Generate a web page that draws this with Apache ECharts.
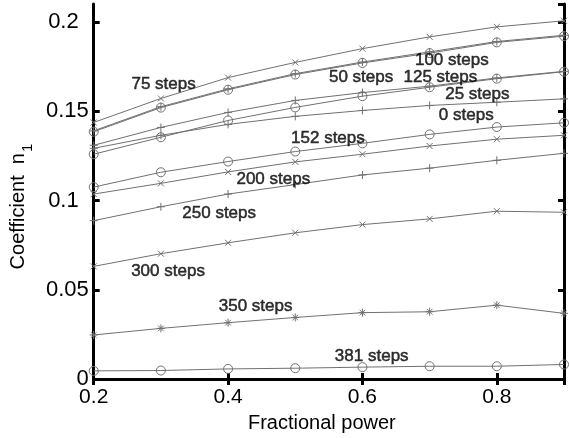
<!DOCTYPE html>
<html>
<head>
<meta charset="utf-8">
<script src="https://cdn.jsdelivr.net/npm/echarts@6/dist/echarts.min.js"></script>
<style>
html,body{margin:0;padding:0;background:#fff;}
#chart{width:569px;height:438px;}
</style>
</head>
<body>
<div id="chart"></div>
<script>
// ---- data ----
const fractionalPower = [0.2, 0.3, 0.4, 0.5, 0.6, 0.7, 0.8, 0.9];

const steps75  = [0.1437, 0.1571, 0.1688, 0.1773, 0.1850, 0.1916, 0.1972, 0.2006];
const steps100 = [0.1390, 0.1525, 0.1625, 0.1710, 0.1775, 0.1832, 0.1890, 0.1925];
const steps50  = [0.1385, 0.1520, 0.1620, 0.1705, 0.1770, 0.1825, 0.1885, 0.1920];
const steps125 = [0.1259, 0.1354, 0.1448, 0.1521, 0.1584, 0.1634, 0.1682, 0.1721];
const steps25  = [0.1309, 0.1409, 0.1493, 0.1560, 0.1604, 0.1640, 0.1686, 0.1723];
const steps0   = [0.1292, 0.1365, 0.1426, 0.1471, 0.1504, 0.1532, 0.1550, 0.1569];
const steps152 = [0.1075, 0.1158, 0.1218, 0.1274, 0.1320, 0.1370, 0.1411, 0.1435];
const steps200 = [0.1036, 0.1096, 0.1160, 0.1216, 0.1259, 0.1305, 0.1343, 0.1365];
const steps250 = [0.0887, 0.0965, 0.1036, 0.1089, 0.1143, 0.1181, 0.1225, 0.1264];
const steps300 = [0.0631, 0.0702, 0.0763, 0.0819, 0.0865, 0.0897, 0.0940, 0.0934];
const steps350 = [0.0247, 0.0284, 0.0316, 0.0345, 0.0372, 0.0377, 0.0414, 0.0368];
const steps381 = [0.0046, 0.0048, 0.0057, 0.0061, 0.0067, 0.0072, 0.0072, 0.0082];

// annotation texts and their anchor points (data coordinates)
const labelTexts = ['75 steps','100 steps','50 steps','125 steps','25 steps','0 steps',
                    '152 steps','200 steps','250 steps','300 steps','350 steps','381 steps'];
const labelX = [0.304, 0.733, 0.598, 0.716, 0.771, 0.7545, 0.5486, 0.4673, 0.3867, 0.3106, 0.441, 0.6138];
const labelY = [0.1649, 0.1783, 0.1689, 0.1689, 0.1595, 0.1478, 0.1350, 0.1117, 0.0928, 0.0606, 0.0406, 0.0128];

const xTicks = [0.2, 0.4, 0.6, 0.8];
const yTicks = [0, 0.05, 0.1, 0.15, 0.2];

// ---- styling ----
const FONT = "'Liberation Sans', Arial, sans-serif";
const LINE = '#707070';
const SYM_X = 'path://M0,0L10,10M10,0L0,10';
const SYM_PLUS = 'path://M5,0L5,10M0,5L10,5';
const SYM_STAR = 'path://M5,0L5,10M0,5L10,5M1.5,1.5L8.5,8.5M8.5,1.5L1.5,8.5';

function mk(name, values, symbol, size) {
  return {
    name: name,
    type: 'line',
    data: fractionalPower.map((x, i) => [x, values[i]]),
    symbol: symbol,
    symbolSize: size,
    showSymbol: true,
    lineStyle: {color: LINE, width: 1},
    itemStyle: {color: 'rgba(0,0,0,0)', borderColor: LINE, borderWidth: 1},
    emphasis: {disabled: true},
    z: 2
  };
}

const series = [
  mk('75 steps', steps75, SYM_X, 6),
  mk('50 steps', steps50, 'circle', 9),
  mk('100 steps', steps100, SYM_PLUS, 8),
  mk('25 steps', steps25, SYM_PLUS, 8),
  mk('125 steps', steps125, 'circle', 9),
  mk('0 steps', steps0, SYM_PLUS, 8),
  mk('152 steps', steps152, 'circle', 9),
  mk('200 steps', steps200, SYM_X, 6),
  mk('250 steps', steps250, SYM_PLUS, 8),
  mk('300 steps', steps300, SYM_X, 6),
  mk('350 steps', steps350, SYM_STAR, 8),
  mk('381 steps', steps381, 'circle', 9),
  {
    name: 'labels',
    type: 'scatter',
    symbolSize: 0,
    silent: true,
    data: labelTexts.map((t, i) => ({value: [labelX[i], labelY[i]], name: t})),
    label: {
      show: true, position: 'inside', formatter: p => p.name,
      color: '#000', fontSize: 17, fontFamily: FONT,
      textBorderWidth: 0.5, textBorderColor: '#000'
    },
    z: 5
  }
];

const axisLineStyle = {show: true, lineStyle: {color: '#000', width: 3}};
const tickStyle = {show: true, inside: true, length: 6, lineStyle: {color: '#000', width: 3}};

const option = {
  animation: false,
  backgroundColor: '#fff',
  grid: {left: 85, right: 5, top: 4, bottom: 56, containLabel: false},
  xAxis: [
    {
      type: 'value', min: 0.2, max: 0.9, interval: 0.2,
      position: 'bottom',
      name: 'Fractional power', nameLocation: 'middle', nameGap: 27,
      nameTextStyle: {color: '#000', fontSize: 20, fontFamily: FONT, padding: [0, 14, 0, 0]},
      axisLine: axisLineStyle, axisTick: tickStyle,
      axisLabel: {
        color: '#000', fontSize: 21, fontFamily: FONT, margin: 8,
        showMaxLabel: false,
        formatter: v => (xTicks.some(t => Math.abs(t - v) < 1e-9) ? String(+v.toFixed(2)) : '')
      },
      splitLine: {show: false}
    },
    {
      type: 'value', min: 0.2, max: 0.9, interval: 0.2,
      position: 'top',
      axisLine: axisLineStyle, axisTick: tickStyle,
      axisLabel: {show: false}, splitLine: {show: false}
    }
  ],
  yAxis: [
    {
      type: 'value', min: 0, max: 0.21, interval: 0.05,
      position: 'left',
      name: '{a|Coefficient  n}{b|1}', nameLocation: 'middle', nameGap: 40,
      nameRotate: 90,
      nameTextStyle: {
        color: '#000', fontFamily: FONT, padding: [0, 30, 0, 0],
        rich: {
          a: {fontSize: 20, fontFamily: FONT, color: '#000', verticalAlign: 'bottom'},
          b: {fontSize: 15, fontFamily: FONT, color: '#000', verticalAlign: 'bottom', padding: [0, 0, -7, 1]}
        }
      },
      axisLine: axisLineStyle, axisTick: tickStyle,
      axisLabel: {
        color: '#000', fontSize: 22, fontFamily: FONT, margin: 5,
        showMaxLabel: false,
        formatter: v => {
          const s = String(+v.toFixed(2));
          return (s === '0.1' || s === '0.2') ? '{p|' + s + '}' : s;
        },
        rich: {p: {fontSize: 22, fontFamily: FONT, color: '#000', padding: [0, 10, 0, 0]}}
      },
      splitLine: {show: false}
    },
    {
      type: 'value', min: 0, max: 0.21, interval: 0.05,
      position: 'right',
      axisLine: axisLineStyle, axisTick: tickStyle,
      axisLabel: {show: false}, splitLine: {show: false}
    }
  ],
  series: series
};

const chart = echarts.init(document.getElementById('chart'), null, {renderer: 'canvas'});
chart.setOption(option);
</script>
</body>
</html>
